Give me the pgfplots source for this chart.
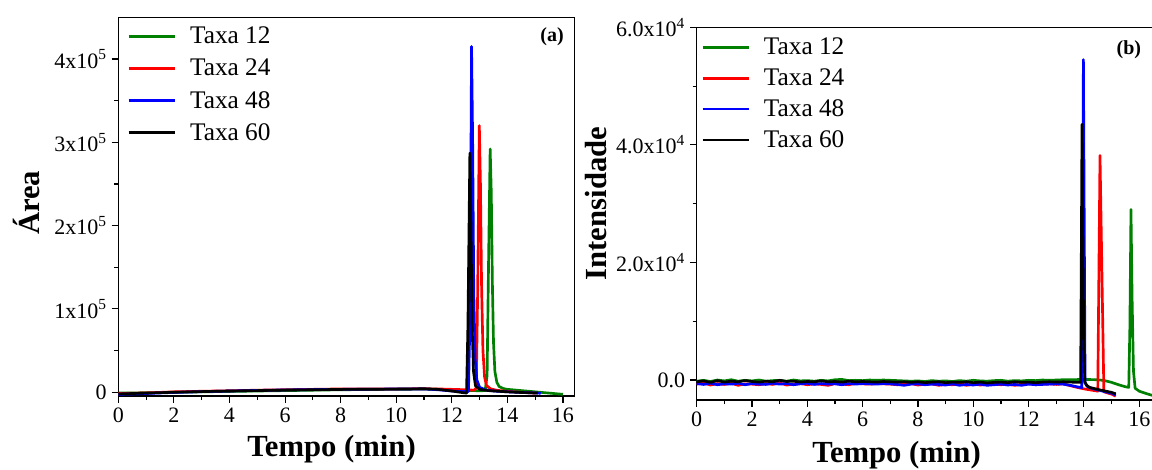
\documentclass[border=0pt]{standalone}
\usepackage{fontspec}
\setmainfont{Liberation Serif}
\usepackage{pgfplots}
\pgfplotsset{compat=1.18}
\definecolor{cgreen}{RGB}{0,128,0}
\pgfplotsset{
  mystyle/.style={
    scale only axis,
    tick align=outside,
    tick pos=left,
    major tick length=5pt,
    minor tick length=3pt,
    every axis/.append style={line width=0.8pt},
    every tick/.style={black, line width=0.8pt},
    tick label style={font=\fontsize{16.5}{18}\selectfont},
    /pgf/number format/assume math mode=true,
    scaled y ticks=false,
    xtick={0,2,...,16}, minor x tick num=1, minor y tick num=1,
    legend style={draw=none, fill=none, font=\fontsize{19}{21}\selectfont, anchor=north west, row sep=6pt,
      /tikz/every odd column/.append style={column sep=8pt}},
    legend cell align=left,
    legend image code/.code={\draw[##1, line width=2pt] (0pt,0pt) -- (35pt,0pt);},
    every axis plot post/.append style={line width=2pt, line join=round},
    label style={font=\fontsize{23}{26}\selectfont\bfseries},
  }
}
\begin{document}
\begin{tikzpicture}
\path[use as bounding box] (0,0) rectangle (864pt,-351.75pt);
% ---------------- (a) ----------------
\begin{axis}[mystyle,
  at={(88.7pt,-297pt)}, anchor=south west, width=342.5pt, height=284pt,
  xmin=0, xmax=16.43, ymin=-4500, ymax=450000,
  ytick={0,100000,200000,300000,400000},
  yticklabels={0,1x10\textsuperscript{5},2x10\textsuperscript{5},3x10\textsuperscript{5},4x10\textsuperscript{5}},
  xlabel={Tempo (min)}, ylabel={Área},
  xlabel style={at={(axis description cs:0.467,0)}, anchor=center, yshift=-39.75pt},
  ylabel style={at={(axis description cs:-0.202,0.51)}, anchor=center},
  legend style={at={(axis description cs:0.01,0.99)}},
]
\addplot[cgreen] coordinates {(0,-1000)(0.5,-800)(1,-600)(2,0)(3,500)(4,1000)(5,1500)(6,2000)(7,2500)(8,3000)(9,3300)(10,3600)(11,3800)(11.5,3500)(12,2800)(12.5,2200)(13,1800)(13.2,2000)(13.27,20000)(13.32,150000)(13.38,292000)(13.42,240000)(13.46,130000)(13.5,60000)(13.55,25000)(13.62,12000)(13.7,7000)(13.85,4500)(14,3500)(14.5,2000)(15,500)(15.5,-1000)(16,-2500)};
\addlegendentry{Taxa 12}
\addplot[red] coordinates {(0,-1500)(1,-800)(2,500)(3,1200)(4,1800)(5,2500)(6,3000)(7,3500)(8,4000)(9,4000)(10,4000)(11,4200)(11.5,4000)(12,3500)(12.5,3000)(12.8,2500)(12.88,5000)(12.93,120000)(12.99,320000)(13.03,250000)(13.07,130000)(13.12,50000)(13.18,18000)(13.25,8000)(13.4,4000)(13.6,2500)(14,1000)(14.5,0)(15,-1000)};
\addlegendentry{Taxa 24}
\addplot[blue] coordinates {(0,-2500)(1,-1500)(2,-200)(3,700)(4,1500)(5,2200)(6,2800)(7,3200)(8,3500)(9,3700)(10,3900)(11,4000)(11.5,3000)(12,1500)(12.4,800)(12.6,1000)(12.66,100000)(12.71,415000)(12.75,300000)(12.79,120000)(12.84,40000)(12.9,15000)(13,6000)(13.2,3000)(13.5,1500)(14,500)(14.5,-200)(15,-800)(15.2,-1200)};
\addlegendentry{Taxa 48}
\addplot[black] coordinates {(0,-2000)(1,-1000)(2,0)(3,800)(4,1500)(5,2000)(6,2600)(7,3000)(8,3400)(9,3600)(10,3800)(11,4200)(11.5,3500)(12,1500)(12.4,-500)(12.53,-1000)(12.58,80000)(12.65,287000)(12.69,200000)(12.73,80000)(12.78,25000)(12.85,8000)(13,3500)(13.3,2000)(14,500)(14.5,-300)(15.1,-1000)};
\addlegendentry{Taxa 60}
\node[font=\fontsize{15}{17}\selectfont\bfseries] at (axis description cs:0.95,0.948) {(a)};
\end{axis}
% ---------------- (b) ----------------
\begin{axis}[mystyle,
  at={(522.5pt,-300pt)}, anchor=south west, width=352.7pt, height=279.5pt,
  xmin=0, xmax=17, ymin=-3400, ymax=60000,
  ytick={0,20000,40000,60000},
  yticklabels={0.0,2.0x10\textsuperscript{4},4.0x10\textsuperscript{4},6.0x10\textsuperscript{4}},
  xlabel={Tempo (min)}, ylabel={Intensidade},
  xlabel style={at={(axis description cs:0.425,0)}, anchor=center, yshift=-41.25pt},
  ylabel style={at={(axis description cs:-0.214,0.527)}, anchor=center},
  legend style={at={(axis description cs:0.0,0.987)}, row sep=5pt},
]
\addplot[cgreen] coordinates {(0,-200)(0.25,-50)(0.5,-250)(0.75,0)(1,-150)(1.25,50)(1.5,-200)(1.75,-50)(2,-150)(2.25,0)(2.5,-200)(2.75,-100)(3,-50)(3.25,-200)(3.5,0)(3.75,-150)(4,-100)(4.25,-200)(4.5,-50)(4.75,-150)(5,50)(5.25,100)(5.5,-100)(5.75,-50)(6,-100)(6.25,0)(6.5,-50)(6.75,0)(7,-50)(7.25,-100)(7.5,-150)(7.75,-200)(8,-150)(8.25,-250)(8.5,-100)(8.75,-200)(9,-150)(9.25,-250)(9.5,-100)(9.75,-200)(10,-50)(10.25,-150)(10.5,-200)(10.75,-100)(11,-50)(11.25,-200)(11.5,-100)(11.75,-150)(12,-50)(12.25,-100)(12.5,0)(12.75,-50)(13,0)(13.25,50)(13.5,50)(14,100)(14.5,50)(14.75,-100)(15,-400)(15.25,-800)(15.5,-1150)(15.62,-1250)(15.66,9000)(15.7,29000)(15.74,14000)(15.79,1500)(15.85,-1400)(16,-1900)(16.25,-2300)(16.5,-2650)(17,-3100)};
\addlegendentry{Taxa 12}
\addplot[red] coordinates {(0,-700)(0.25,-500)(0.5,-850)(0.75,-600)(1,-750)(1.25,-550)(1.5,-900)(1.75,-650)(2,-700)(2.25,-800)(2.5,-600)(2.75,-750)(3,-500)(3.25,-850)(3.5,-700)(3.75,-600)(4,-800)(4.25,-650)(4.5,-750)(4.75,-900)(5,-600)(5.25,-700)(5.5,-800)(5.75,-550)(6,-650)(6.25,-700)(6.5,-600)(6.75,-650)(7,-700)(7.25,-800)(7.5,-750)(7.75,-600)(8,-850)(8.25,-700)(8.5,-650)(8.75,-900)(9,-750)(9.25,-800)(9.5,-600)(9.75,-900)(10,-700)(10.25,-850)(10.5,-750)(10.75,-650)(11,-800)(11.25,-700)(11.5,-900)(11.75,-750)(12,-600)(12.25,-800)(12.5,-700)(12.75,-650)(13,-750)(13.25,-650)(13.5,-950)(13.75,-1250)(14,-1500)(14.25,-1700)(14.5,-1900)(14.58,38200)(14.72,-2000)(14.85,-2200)(15,-2400)(15.15,-2750)};
\addlegendentry{Taxa 24}
\addplot[blue] coordinates {(0,-600)(0.25,-750)(0.5,-550)(0.75,-800)(1,-650)(1.25,-700)(1.5,-550)(1.75,-800)(2,-600)(2.25,-700)(2.5,-750)(2.75,-550)(3,-700)(3.25,-600)(3.5,-800)(3.75,-650)(4,-550)(4.25,-750)(4.5,-600)(4.75,-700)(5,-650)(5.25,-800)(5.5,-600)(5.75,-700)(6,-600)(6.25,-650)(6.5,-700)(6.75,-600)(7,-650)(7.25,-750)(7.5,-900)(7.75,-700)(8,-650)(8.25,-800)(8.5,-700)(8.75,-750)(9,-850)(9.25,-650)(9.5,-900)(9.75,-750)(10,-850)(10.25,-700)(10.5,-900)(10.75,-800)(11,-700)(11.25,-850)(11.5,-750)(11.75,-900)(12,-700)(12.25,-800)(12.5,-750)(12.75,-700)(13,-650)(13.25,-700)(13.5,-900)(13.75,-1150)(13.92,-1300)(13.98,54500)(14.04,-500)(14.12,-1100)(14.3,-1450)(14.6,-1800)(15,-2250)(15.15,-2550)};
\addlegendentry{Taxa 48}
\addplot[black] coordinates {(0,-300)(0.25,-150)(0.5,-400)(0.75,-100)(1,-350)(1.25,-200)(1.5,-300)(1.75,-100)(2,-250)(2.25,-350)(2.5,-200)(2.75,-300)(3,-50)(3.25,-250)(3.5,-200)(3.75,-350)(4,-250)(4.25,-300)(4.5,-150)(4.75,-300)(5,-250)(5.25,-350)(5.5,-200)(5.75,-300)(6,-250)(6.25,-300)(6.5,-350)(6.75,-250)(7,-300)(7.25,-350)(7.5,-300)(7.75,-400)(8,-300)(8.25,-450)(8.5,-350)(8.75,-300)(9,-450)(9.25,-350)(9.5,-400)(9.75,-300)(10,-450)(10.25,-350)(10.5,-500)(10.75,-400)(11,-350)(11.25,-450)(11.5,-300)(11.75,-400)(12,-350)(12.25,-450)(12.5,-350)(12.75,-300)(13,-350)(13.25,-300)(13.5,-350)(13.75,-400)(13.88,-400)(13.93,43500)(13.99,8000)(14.03,-300)(14.1,-900)(14.2,-1250)(14.5,-1600)(15,-2100)(15.15,-2350)};
\addlegendentry{Taxa 60}
\node[font=\fontsize{15}{17}\selectfont\bfseries] at (axis description cs:0.919,0.939) {(b)};
\end{axis}
\end{tikzpicture}
\end{document}
